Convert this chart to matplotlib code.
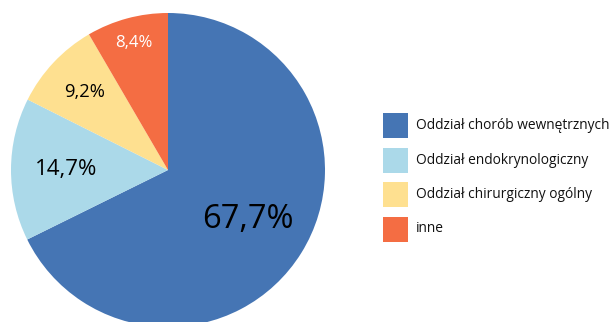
import numpy as np
import matplotlib
matplotlib.use("Agg")
import matplotlib.pyplot as plt
from matplotlib.patches import Rectangle

plt.rcParams['font.family'] = ['Open Sans', 'DejaVu Sans']

categories = ["Oddział chorób wewnętrznych", "Oddział endokrynologiczny",
              "Oddział chirurgiczny ogólny", "inne"]
shares = [67.7, 14.7, 9.2, 8.4]
colors = ["#4575b4", "#abd9e9", "#fee090", "#f46d43"]

# per-slice label styling
label_radius = [0.60, 0.65, 0.73, 0.84]
label_size = [23.5, 16, 13.2, 12]
label_color = ["black", "black", "black", "white"]

W, H = 612, 322
fig = plt.figure(figsize=(W / 100, H / 100), dpi=100)

cx, cy, r = 168, 170, 157
ax = fig.add_axes([(cx - r) / W, (H - cy - r) / H, 2 * r / W, 2 * r / H])
wedges, _ = ax.pie(shares, colors=colors, startangle=90, counterclock=False,
                   radius=1.0, wedgeprops=dict(linewidth=0))
ax.set_xlim(-1, 1)
ax.set_ylim(-1, 1)
ax.set_aspect("equal")
ax.axis("off")

for w, v, rad, fs, col in zip(wedges, shares, label_radius, label_size, label_color):
    ang = np.deg2rad((w.theta1 + w.theta2) / 2)
    ax.text(rad * np.cos(ang), rad * np.sin(ang), f"{v:.1f}".replace(".", ",") + "%",
            ha="center", va="center", fontsize=fs, color=col)

# legend drawn by hand on the right
x0, y0, step, box = 383, 113, 34.5, 25
for i, (name, col) in enumerate(zip(categories, colors)):
    top = y0 + i * step
    fig.patches.append(Rectangle((x0 / W, (H - top - box) / H), box / W, box / H,
                                 transform=fig.transFigure, facecolor=col,
                                 edgecolor="none"))
    fig.text(416 / W, (H - top - box / 2) / H, name, ha="left", va="center",
             fontsize=9.9, color="#111111")

fig.savefig("out.png", dpi=100)
